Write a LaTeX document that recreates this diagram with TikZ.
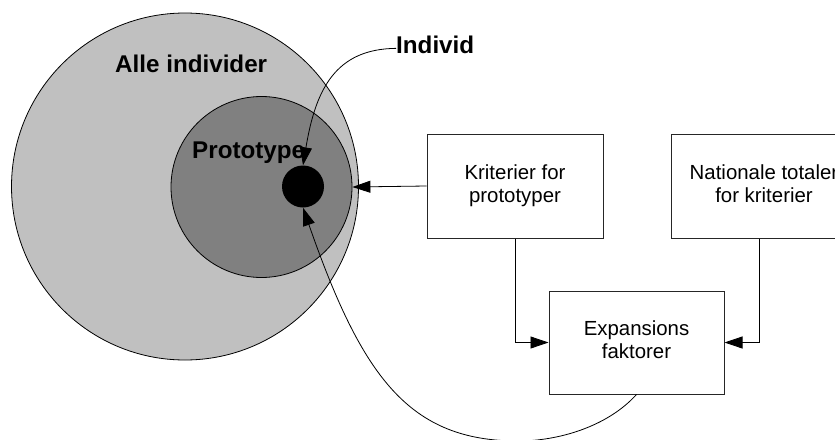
\documentclass[tikz,border=0pt]{standalone}
\usepackage{fontspec}
\setmainfont{Liberation Sans}
\usetikzlibrary{arrows.meta}
\definecolor{lgray}{RGB}{192,192,192}
\definecolor{dgray}{RGB}{128,128,128}
\begin{document}
\begin{tikzpicture}[x=1pt,y=-1pt,
  box/.style={draw=black!85, line width=1pt, minimum width=176pt, minimum height=104pt, inner sep=0pt, align=center, font=\fontsize{20.4}{23}\selectfont},
  lbl/.style={font=\fontsize{24.2}{28}\selectfont\bfseries, inner sep=0pt, anchor=base west},
  conn/.style={draw=black, line width=0.8pt, -{Triangle[length=18pt,width=12pt]}},
  ring/.style={circle, draw=black, line width=0.8pt, inner sep=0pt}
  ]
\useasboundingbox (0,0) rectangle (835,439);
\clip (0,0) rectangle (835,439);
% circles
\node[ring, fill=lgray, minimum size=347pt] (all) at (185,186.5) {};
\node[ring, fill=dgray, minimum size=181pt] (inner) at (261.5,187) {};
\node[circle, fill=black, inner sep=0pt, minimum size=42pt] (dot) at (303,186.5) {};
% labels
\node[lbl] (alle) at (115,72) {Alle individer};
\node[lbl] (proto) at (192,158) {Prototype};
\node[lbl] (indiv) at (396,53) {Individ};
% boxes
\node[box] (krit) at (515,186) {\strut Kriterier for\\ prototyper\strut};
\node[box, minimum width=186pt] (nat) at (764,186) {\strut Nationale totaler\\ for kriterier\strut};
\node[box, minimum width=175pt, minimum height=103pt] (exp) at (636.5,342.5) {\strut Expansions\\ faktorer\strut};
% connectors
\draw[conn] (krit.west) -- (inner.east);
\draw[conn] (krit.south) |- (exp.west);
\draw[conn] ([xshift=-5pt]nat.south) |- (exp.east);
\draw[conn] ([yshift=-4pt]indiv.west) .. controls (335,49) and (315.5,90) .. (dot.north);
\coordinate (low) at (518,441);
\draw[conn] (exp.south) .. controls (607,427) and (558,441) .. (low)
   .. controls (409,441) and (362,377) .. (dot.south);
\end{tikzpicture}
\end{document}
